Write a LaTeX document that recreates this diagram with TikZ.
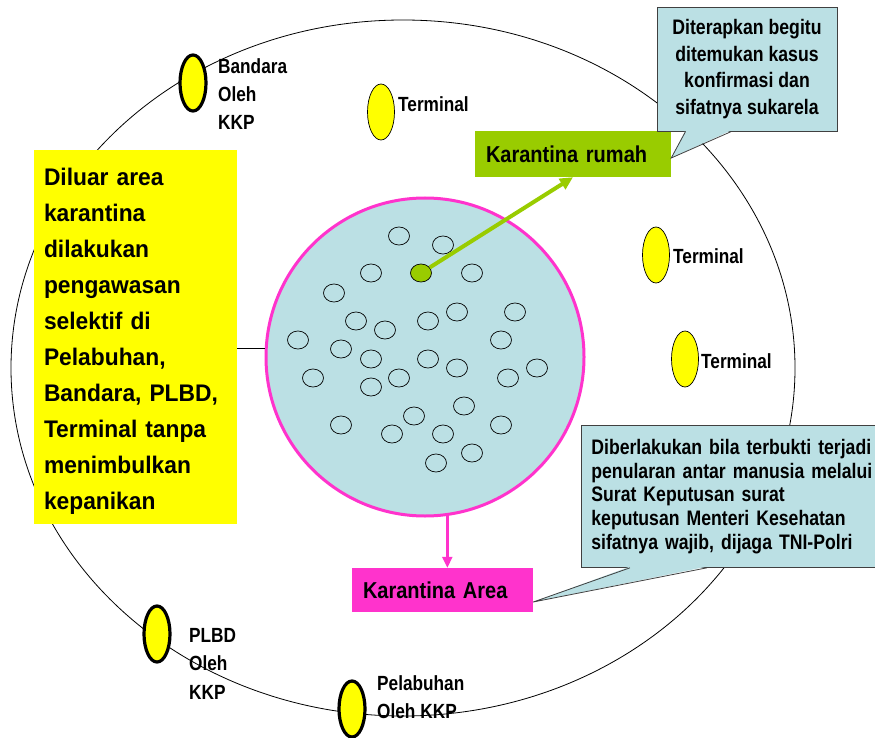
\documentclass[tikz,border=0pt]{standalone}
\usepackage{fontspec}
\setmainfont{Liberation Sans}[FakeStretch=0.84]
\newfontfamily\widesans{Liberation Sans}[FakeStretch=0.95]
\newfontfamily\tagsans{Liberation Sans}[FakeStretch=0.87]
\newcommand\tightspace{\spaceskip=0.24em\relax}
\newcommand\widespace{\spaceskip=0.27em\relax}
\usetikzlibrary{shapes.geometric,arrows.meta}
\definecolor{rumahgreen}{HTML}{99CC00}
\definecolor{areapink}{HTML}{FF33CC}
\definecolor{zoneblue}{HTML}{BBE0E4}
\definecolor{gateyellow}{HTML}{FFFF00}

\begin{document}
\begin{tikzpicture}[
  x=1pt, y=-1pt,
  person/.style={draw, ellipse, line width=0.7pt, minimum width=21pt,
                 minimum height=18pt, inner sep=0pt},
  gate/.style={draw, ellipse, fill=gateyellow, line width=3.2pt,
               minimum width=26pt, minimum height=56pt, inner sep=0pt},
  terminal/.style={draw, ellipse, fill=gateyellow, line width=0.7pt,
                   minimum width=27pt, minimum height=56pt, inner sep=0pt},
  lbl/.style={font=\bfseries\fontsize{20.5}{28.4}\selectfont\tightspace,
              align=left, inner sep=0pt},
  tagbox/.style={font=\tagsans\bfseries\fontsize{23}{27}\selectfont\tightspace,
                 align=left, inner xsep=11pt, minimum height=45pt},
  note/.style={draw=black!75, line width=0.8pt, fill=zoneblue,
               font=\bfseries\fontsize{21}{26.7}\selectfont\tightspace,
               inner sep=0pt},
  arrow/.style={-{Triangle[length=13pt,width=12pt]}, line width=4pt,
                color=rumahgreen},
]
  \useasboundingbox (0,0) rectangle (875,738);

  % outer zone
  \node[draw, ellipse, line width=0.8pt, minimum width=784pt,
        minimum height=696pt] (zone) at (403,368) {};

  % outside quarantine area
  \node[fill=gateyellow, text width=183pt, inner xsep=10pt, inner ysep=0pt,
        minimum height=374pt, align=left,
        font=\widesans\bfseries\fontsize{24}{36.1}\selectfont\widespace]
        (outside) at (135.5,337) {\rule{0pt}{26pt}Diluar area\\karantina\\
        dilakukan\\pengawasan\\selektif di\\Pelabuhan,\\Bandara, PLBD,\\
        Terminal tanpa\\menimbulkan\\kepanikan};

  % quarantine area
  \node[circle, draw=areapink, fill=zoneblue, line width=3pt,
        minimum size=318pt, inner sep=0pt] (area) at (425,357) {};
  \draw[line width=0.8pt] (area.177) -- (area.177 -| outside.east);

  \foreach \x/\y [count=\i] in {399/236, 443/245, 371/273, 472/273, 334/293,
      356/321, 385/330, 428/321, 457/312, 515/312, 298/340, 341/349, 371/359,
      428/359, 457/368, 501/340, 537/368, 313/378, 399/378, 371/387, 508/378,
      464/406, 414/416, 341/425, 392/434, 443/434, 501/425, 472/453, 436/463}
    \node[person] (p\i) at (\x,\y) {};
  \node[person, fill=rumahgreen] (sick) at (421,273) {};

  % gates and terminals
  \node[gate] (bandara) at (193,83) {};
  \node[lbl, anchor=north west] (bandaralbl) at (218,58) {Bandara\\Oleh\\KKP};
  \node[gate] (plbd) at (157,634) {};
  \node[lbl, anchor=north west] (plbdlbl) at (189,628) {PLBD\\Oleh\\KKP};
  \node[gate] (pelabuhan) at (352,709) {};
  \node[lbl, anchor=north west] (pelabuhanlbl) at (377,675) {Pelabuhan\\Oleh KKP};

  \node[terminal] (term1) at (381,112) {};
  \node[lbl, anchor=base west] (term1lbl) at (398,112) {Terminal};
  \node[terminal] (term2) at (656,255) {};
  \node[lbl, anchor=base west] (term2lbl) at (673,263) {Terminal};
  \node[terminal] (term3) at (685,359) {};
  \node[lbl, anchor=base west] (term3lbl) at (701,368) {Terminal};

  % home and area quarantine
  \node[tagbox, fill=rumahgreen, text width=174pt, minimum height=46pt]
        (rumah) at (573,154) {Karantina rumah};
  \node[tagbox, fill=areapink, text width=159pt, minimum height=44pt]
        (areabox) at (442.5,590) {Karantina Area};

  \draw[arrow] (sick) -- (rumah.south);
  \draw[arrow, -{Triangle[length=11pt,width=10pt]}, line width=2.4pt,
        color=areapink] (area.-82.5) -- (area.-82.5 |- areabox.north);

  % callouts
  \node[note, minimum width=180pt, minimum height=124pt, align=center]
        (note1) at (747,69) {Diterapkan begitu\\ditemukan kasus\\
        konfirmasi dan\\sifatnya sukarela};
  \fill[zoneblue] ([xshift=29pt,yshift=1.2pt]note1.south west)
        -- ([yshift=-4pt]rumah.east)
        -- ([xshift=75pt,yshift=1.2pt]note1.south west) -- cycle;
  \draw[black!75, line width=0.8pt] ([xshift=29pt]note1.south west)
        -- ([yshift=-4pt]rumah.east) -- ([xshift=75pt]note1.south west);

  \node[note, anchor=north west, text width=290pt, inner xsep=10pt,
        minimum height=142pt, align=left,
        font=\bfseries\fontsize{21}{23.7}\selectfont\tightspace]
        (note2) at (581,425) {Diberlakukan bila terbukti terjadi\\
        penularan antar manusia melalui\\Surat Keputusan surat\\
        keputusan Menteri Kesehatan\\sifatnya wajib, dijaga TNI-Polri};
  \fill[zoneblue] ([xshift=49pt,yshift=1.2pt]note2.south west)
        -- ([yshift=-12pt]areabox.east)
        -- ([xshift=126pt,yshift=1.2pt]note2.south west) -- cycle;
  \draw[black!75, line width=0.8pt] ([xshift=49pt]note2.south west)
        -- ([yshift=-12pt]areabox.east) -- ([xshift=126pt]note2.south west);
\end{tikzpicture}
\end{document}
